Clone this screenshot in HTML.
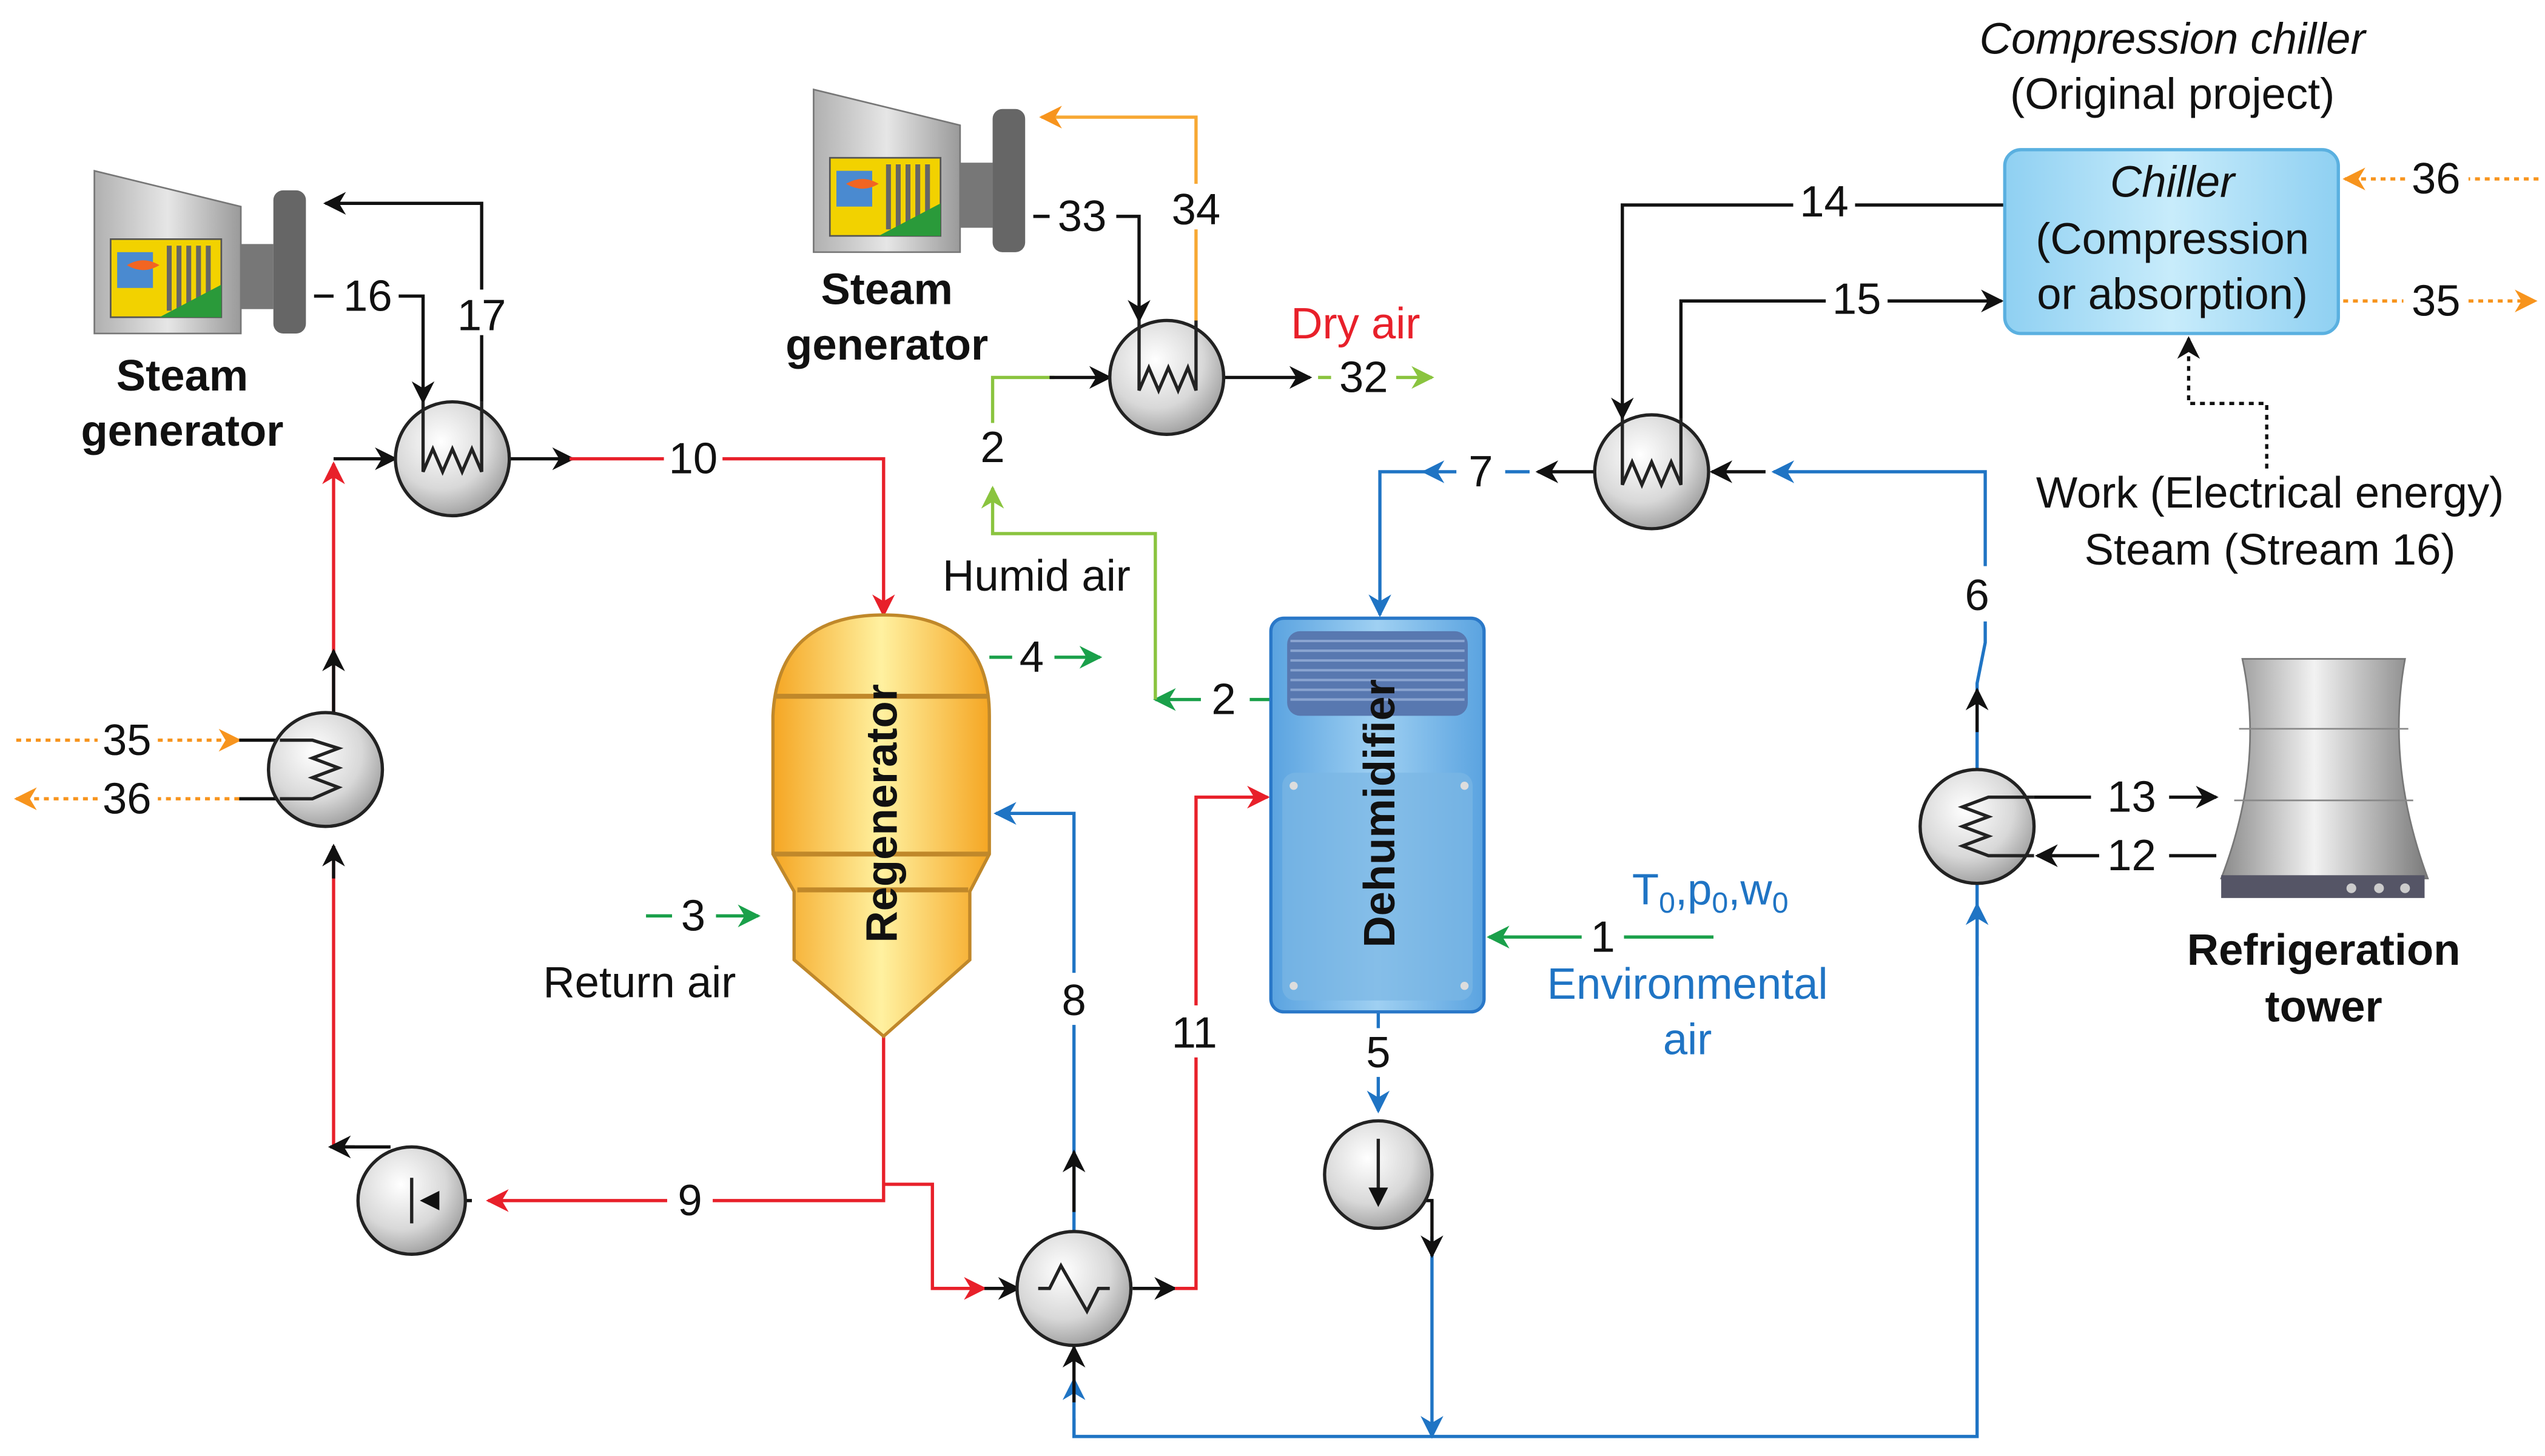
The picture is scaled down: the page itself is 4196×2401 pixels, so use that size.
<!DOCTYPE html>
<html><head><meta charset="utf-8"><style>
html,body{margin:0;padding:0;background:#fff;}
svg{display:block;}
text{font-family:"Liberation Sans",sans-serif;font-size:27px;fill:#111;}
.b{font-weight:bold;}
.i{font-style:italic;}
</style></head><body>
<svg width="4196" height="2401" viewBox="0 0 1564 895" preserveAspectRatio="none" xmlns="http://www.w3.org/2000/svg">
<defs>
<marker id="ak" viewBox="0 0 10 10" refX="9" refY="5" markerWidth="7" markerHeight="7" orient="auto"><path d="M0,0 L10,5 L0,10 L3,5z" fill="#111"/></marker>
<marker id="ar" viewBox="0 0 10 10" refX="9" refY="5" markerWidth="7" markerHeight="7" orient="auto"><path d="M0,0 L10,5 L0,10 L3,5z" fill="#e8202a"/></marker>
<marker id="ab" viewBox="0 0 10 10" refX="9" refY="5" markerWidth="7" markerHeight="7" orient="auto"><path d="M0,0 L10,5 L0,10 L3,5z" fill="#1f74c4"/></marker>
<marker id="ag" viewBox="0 0 10 10" refX="9" refY="5" markerWidth="7" markerHeight="7" orient="auto"><path d="M0,0 L10,5 L0,10 L3,5z" fill="#1aa04a"/></marker>
<marker id="al" viewBox="0 0 10 10" refX="9" refY="5" markerWidth="7" markerHeight="7" orient="auto"><path d="M0,0 L10,5 L0,10 L3,5z" fill="#8ac43f"/></marker>
<marker id="ao" viewBox="0 0 10 10" refX="9" refY="5" markerWidth="7" markerHeight="7" orient="auto"><path d="M0,0 L10,5 L0,10 L3,5z" fill="#f7941d"/></marker>
<radialGradient id="hx" cx="0.4" cy="0.35" r="0.7"><stop offset="0" stop-color="#fff"/><stop offset="0.6" stop-color="#d8d8d8"/><stop offset="1" stop-color="#9a9a9a"/></radialGradient>
<linearGradient id="reg" x1="0" x2="1"><stop offset="0" stop-color="#f5a623"/><stop offset="0.5" stop-color="#fff1a0"/><stop offset="1" stop-color="#f5a623"/></linearGradient>
<linearGradient id="deh" x1="0" x2="1"><stop offset="0" stop-color="#5aa3e0"/><stop offset="0.5" stop-color="#9fd0f2"/><stop offset="1" stop-color="#5aa3e0"/></linearGradient>
<linearGradient id="chl" x1="0" x2="1"><stop offset="0" stop-color="#8fd0f2"/><stop offset="0.5" stop-color="#c8ecfb"/><stop offset="1" stop-color="#8fd0f2"/></linearGradient>
<linearGradient id="tw" x1="0" x2="1"><stop offset="0" stop-color="#8a8a8a"/><stop offset="0.45" stop-color="#f2f2f2"/><stop offset="1" stop-color="#7a7a7a"/></linearGradient>
<linearGradient id="bld" x1="0" x2="1"><stop offset="0" stop-color="#b0b0b0"/><stop offset="0.5" stop-color="#e6e6e6"/><stop offset="1" stop-color="#9a9a9a"/></linearGradient>
<g id="sg">
<path d="M0,0 L90,22 L90,100 L0,100z" fill="url(#bld)" stroke="#777"/>
<rect x="10" y="42" width="68" height="48" fill="#f2d200" stroke="#555"/>
<rect x="14" y="50" width="22" height="22" fill="#4a8ad0"/>
<path d="M20,58 q10,-6 20,0 q-10,6 -20,0" fill="#f26522"/>
<path d="M46,46 v40 M52,46 v40 M58,46 v40 M64,46 v40 M70,46 v40" stroke="#666" stroke-width="3"/>
<path d="M40,90 L78,70 L78,90z" fill="#2a9a3a"/>
<rect x="90" y="45" width="20" height="40" fill="#777"/>
<rect x="110" y="12" width="20" height="88" rx="6" fill="#666"/>
</g>
</defs>

<use href="#sg" x="58" y="105"/>
<text class="b" x="112" y="240" text-anchor="middle">Steam</text>
<text class="b" x="112" y="274" text-anchor="middle">generator</text>
<use href="#sg" x="500" y="55"/>
<text class="b" x="545" y="187" text-anchor="middle">Steam</text>
<text class="b" x="545" y="221" text-anchor="middle">generator</text>

<path d="M193,182 H205" stroke="#111" stroke-width="2" fill="none"/>
<text x="226" y="191" text-anchor="middle">16</text>
<path d="M245,182 H260 V247" stroke="#111" stroke-width="2" fill="none" marker-end="url(#ak)"/>
<path d="M296,247 V125 H200" stroke="#111" stroke-width="2" fill="none" marker-end="url(#ak)"/>
<rect x="282" y="178" width="28" height="28" fill="#fff"/>
<text x="296" y="203" text-anchor="middle">17</text>

<path d="M635,133 H645" stroke="#111" stroke-width="2"/>
<text x="665" y="142" text-anchor="middle">33</text>
<path d="M686,133 H700 V197" stroke="#111" stroke-width="2" fill="none" marker-end="url(#ak)"/>
<path d="M735,197 V72 H640" stroke="#f7a833" stroke-width="2" fill="none" marker-end="url(#ao)"/>
<rect x="720" y="113" width="30" height="28" fill="#fff"/>
<text x="735" y="138" text-anchor="middle">34</text>

<path d="M205,705 V520" stroke="#e8202a" stroke-width="2" fill="none"/>
<path d="M205,438 V285" stroke="#e8202a" stroke-width="2" fill="none" marker-end="url(#ar)"/>
<path d="M205,282 H243" stroke="#111" stroke-width="2" fill="none" marker-end="url(#ak)"/>
<path d="M205,705 H240" stroke="#111" stroke-width="2" fill="none"/>
<path d="M218,705 H203" stroke="#111" stroke-width="2" marker-end="url(#ak)"/>
<path d="M205,438 V400" stroke="#111" stroke-width="2" marker-end="url(#ak)"/>
<path d="M205,540 V520" stroke="#111" stroke-width="2" marker-end="url(#ak)"/>
<path d="M313,282 H352" stroke="#111" stroke-width="2" marker-end="url(#ak)"/>
<path d="M350,282 H543 V378" stroke="#e8202a" stroke-width="2" fill="none" marker-end="url(#ar)"/>
<rect x="408" y="268" width="36" height="28" fill="#fff"/>
<text x="426" y="291" text-anchor="middle">10</text>

<path d="M543,637 V738 H300" stroke="#e8202a" stroke-width="2" fill="none" marker-end="url(#ar)"/>
<path d="M290,738 H258" stroke="#111" stroke-width="2" marker-end="url(#ak)"/>
<rect x="410" y="724" width="28" height="28" fill="#fff"/>
<text x="424" y="747" text-anchor="middle">9</text>
<path d="M543,728 H573 V792 H605" stroke="#e8202a" stroke-width="2" fill="none" marker-end="url(#ar)"/>
<path d="M605,792 H626" stroke="#111" stroke-width="2" marker-end="url(#ak)"/>

<path d="M660,757 V500 H612" stroke="#1f74c4" stroke-width="2" fill="none" marker-end="url(#ab)"/>
<path d="M660,745 V708" stroke="#111" stroke-width="2" marker-end="url(#ak)"/>
<rect x="648" y="598" width="24" height="32" fill="#fff"/>
<text x="660" y="624" text-anchor="middle">8</text>
<path d="M696,792 H722" stroke="#111" stroke-width="2" marker-end="url(#ak)"/>
<path d="M722,792 H735 V490 H779" stroke="#e8202a" stroke-width="2" fill="none" marker-end="url(#ar)"/>
<rect x="716" y="618" width="36" height="32" fill="#fff"/>
<text x="734" y="644" text-anchor="middle">11</text>

<path d="M660,872 V883 H1215 V540" stroke="#1f74c4" stroke-width="2" fill="none"/>
<path d="M660,883 V848" stroke="#1f74c4" stroke-width="2" marker-end="url(#ab)"/>
<path d="M660,862 V828" stroke="#111" stroke-width="2" marker-end="url(#ak)"/>
<path d="M880,760 V883" stroke="#1f74c4" stroke-width="2" marker-end="url(#ab)"/>
<path d="M1215,600 V556" stroke="#1f74c4" stroke-width="2" marker-end="url(#ab)"/>
<path d="M847,738 H880 V772" stroke="#111" stroke-width="2" fill="none" marker-end="url(#ak)"/>

<path d="M847,622 V632" stroke="#1f74c4" stroke-width="2"/>
<text x="847" y="656" text-anchor="middle">5</text>
<path d="M847,662 V683" stroke="#1f74c4" stroke-width="2" marker-end="url(#ab)"/>

<path d="M781,430 H768" stroke="#1aa04a" stroke-width="2"/>
<text x="752" y="439" text-anchor="middle">2</text>
<path d="M738,430 H710" stroke="#1aa04a" stroke-width="2" marker-end="url(#ag)"/>
<path d="M710,430 V328 H610 V300" stroke="#8ac43f" stroke-width="2" fill="none" marker-end="url(#al)"/>
<text x="610" y="284" text-anchor="middle">2</text>
<path d="M610,260 V232 H648" stroke="#8ac43f" stroke-width="2" fill="none"/>
<path d="M645,232 H682" stroke="#111" stroke-width="2" marker-end="url(#ak)"/>
<text x="637" y="363" text-anchor="middle">Humid air</text>
<path d="M752,232 H805" stroke="#111" stroke-width="2" marker-end="url(#ak)"/>
<path d="M810,232 H818" stroke="#8ac43f" stroke-width="2"/>
<text x="838" y="241" text-anchor="middle">32</text>
<path d="M858,232 H880" stroke="#8ac43f" stroke-width="2" marker-end="url(#al)"/>
<text x="833" y="208" text-anchor="middle" style="fill:#e8202a">Dry air</text>

<path d="M608,404 H622" stroke="#1aa04a" stroke-width="2"/>
<text x="634" y="413" text-anchor="middle">4</text>
<path d="M648,404 H676" stroke="#1aa04a" stroke-width="2" marker-end="url(#ag)"/>
<path d="M397,563 H413" stroke="#1aa04a" stroke-width="2"/>
<text x="426" y="572" text-anchor="middle">3</text>
<path d="M440,563 H466" stroke="#1aa04a" stroke-width="2" marker-end="url(#ag)"/>
<text x="393" y="613" text-anchor="middle">Return air</text>

<path d="M1053,576 H998" stroke="#1aa04a" stroke-width="2"/>
<text x="985" y="585" text-anchor="middle">1</text>
<path d="M972,576 H915" stroke="#1aa04a" stroke-width="2" marker-end="url(#ag)"/>
<text x="1003" y="556" style="fill:#1f74c4">T<tspan font-size="18" dy="5">0</tspan><tspan dy="-5">,p</tspan><tspan font-size="18" dy="5">0</tspan><tspan dy="-5">,w</tspan><tspan font-size="18" dy="5">0</tspan></text>
<text x="1037" y="614" text-anchor="middle" style="fill:#1f74c4">Environmental</text>
<text x="1037" y="648" text-anchor="middle" style="fill:#1f74c4">air</text>

<path d="M980,290 H945" stroke="#111" stroke-width="2" marker-end="url(#ak)"/>
<path d="M940,290 H925" stroke="#1f74c4" stroke-width="2"/>
<text x="910" y="299" text-anchor="middle">7</text>
<path d="M895,290 H875" stroke="#1f74c4" stroke-width="2" marker-end="url(#ab)"/>
<path d="M880,290 H848 V378" stroke="#1f74c4" stroke-width="2" fill="none" marker-end="url(#ab)"/>
<path d="M1215,473 V420 L1220,395 V290 H1090" stroke="#1f74c4" stroke-width="2" fill="none" marker-end="url(#ab)"/>
<path d="M1085,290 H1052" stroke="#111" stroke-width="2" marker-end="url(#ak)"/>
<path d="M1215,450 V424" stroke="#111" stroke-width="2" marker-end="url(#ak)"/>
<rect x="1203" y="348" width="28" height="34" fill="#fff"/>
<text x="1215" y="375" text-anchor="middle">6</text>

<path d="M1232,126 H997 V257" stroke="#111" stroke-width="2" fill="none" marker-end="url(#ak)"/>
<rect x="1102" y="110" width="38" height="30" fill="#fff"/>
<text x="1121" y="133" text-anchor="middle">14</text>
<path d="M1033,257 V185 H1230" stroke="#111" stroke-width="2" fill="none" marker-end="url(#ak)"/>
<rect x="1122" y="170" width="38" height="30" fill="#fff"/>
<text x="1141" y="193" text-anchor="middle">15</text>

<rect x="1232" y="92" width="205" height="113" rx="10" fill="url(#chl)" stroke="#5ab0e0" stroke-width="2"/>
<text class="i" x="1335" y="121" text-anchor="middle">Chiller</text>
<text x="1335" y="156" text-anchor="middle">(Compression</text>
<text x="1335" y="190" text-anchor="middle">or absorption)</text>
<text class="i" x="1335" y="33" text-anchor="middle">Compression chiller</text>
<text x="1335" y="67" text-anchor="middle">(Original project)</text>
<path d="M1560,110 H1517" stroke="#f7941d" stroke-width="2" stroke-dasharray="3,3"/>
<text x="1497" y="119" text-anchor="middle">36</text>
<path d="M1478,110 H1441" stroke="#f7941d" stroke-width="2" stroke-dasharray="3,3" marker-end="url(#ao)"/>
<path d="M1440,185 H1477" stroke="#f7941d" stroke-width="2" stroke-dasharray="3,3"/>
<text x="1497" y="194" text-anchor="middle">35</text>
<path d="M1517,185 H1558" stroke="#f7941d" stroke-width="2" stroke-dasharray="3,3" marker-end="url(#ao)"/>
<path d="M1393,288 V248 H1345 V208" stroke="#111" stroke-width="2" stroke-dasharray="3,3" fill="none" marker-end="url(#ak)"/>
<text x="1395" y="312" text-anchor="middle">Work (Electrical energy)</text>
<text x="1395" y="347" text-anchor="middle">Steam (Stream 16)</text>

<path d="M10,455 H60" stroke="#f7941d" stroke-width="2" stroke-dasharray="3,3"/>
<text x="78" y="464" text-anchor="middle">35</text>
<path d="M97,455 H147" stroke="#f7941d" stroke-width="2" stroke-dasharray="3,3" marker-end="url(#ao)"/>
<path d="M147,491 H97" stroke="#f7941d" stroke-width="2" stroke-dasharray="3,3"/>
<text x="78" y="500" text-anchor="middle">36</text>
<path d="M60,491 H10" stroke="#f7941d" stroke-width="2" stroke-dasharray="3,3" marker-end="url(#ao)"/>
<path d="M147,455 H172 M147,491 H172" stroke="#111" stroke-width="2"/>

<path d="M1250,490 H1285" stroke="#111" stroke-width="2"/>
<text x="1310" y="499" text-anchor="middle">13</text>
<path d="M1333,490 H1362" stroke="#111" stroke-width="2" marker-end="url(#ak)"/>
<path d="M1362,526 H1333" stroke="#111" stroke-width="2"/>
<text x="1310" y="535" text-anchor="middle">12</text>
<path d="M1290,526 H1252" stroke="#111" stroke-width="2" marker-end="url(#ak)"/>

<path d="M1378,405 H1478 Q1466,470 1492,540 H1365 Q1392,470 1378,405z" fill="url(#tw)" stroke="#777"/>
<path d="M1376,448 H1480 M1373,492 H1483" stroke="#888"/>
<rect x="1365" y="538" width="125" height="14" fill="#556"/>
<circle cx="1445" cy="546" r="3" fill="#ccc"/><circle cx="1462" cy="546" r="3" fill="#ccc"/><circle cx="1478" cy="546" r="3" fill="#ccc"/>
<text class="b" x="1428" y="593" text-anchor="middle">Refrigeration</text>
<text class="b" x="1428" y="628" text-anchor="middle">tower</text>

<path d="M475,440 Q478,378 543,378 Q608,378 608,440 V525 L596,548 V590 L543,637 L488,590 V548 L475,525z" fill="url(#reg)" stroke="#c0882a" stroke-width="2"/>
<path d="M476,428 H607 M476,525 H607 M490,547 H595" stroke="#c0882a" stroke-width="3"/>
<text class="b" transform="translate(551,500) rotate(-90)" text-anchor="middle" style="font-size:27px">Regenerator</text>

<rect x="781" y="380" width="131" height="242" rx="8" fill="url(#deh)" stroke="#2a78c8" stroke-width="2"/>
<rect x="791" y="388" width="111" height="52" rx="8" fill="#5878b0"/>
<path d="M793,394 H900 M793,400 H900 M793,406 H900 M793,412 H900 M793,418 H900 M793,424 H900 M793,430 H900" stroke="#8aa4d0" stroke-width="1.5"/>
<rect x="788" y="475" width="117" height="140" rx="8" fill="#7ab6e4" opacity="0.7"/>
<circle cx="795" cy="483" r="2.5" fill="#ddd"/><circle cx="900" cy="483" r="2.5" fill="#ddd"/><circle cx="795" cy="606" r="2.5" fill="#ddd"/><circle cx="900" cy="606" r="2.5" fill="#ddd"/>
<text class="b" transform="translate(857,500) rotate(-90)" text-anchor="middle" style="font-size:27px">Dehumidifier</text>

<g stroke="#222" stroke-width="2">
<circle cx="278" cy="282" r="35" fill="url(#hx)"/>
<circle cx="717" cy="232" r="35" fill="url(#hx)"/>
<circle cx="1015" cy="290" r="35" fill="url(#hx)"/>
<circle cx="200" cy="473" r="35" fill="url(#hx)"/>
<circle cx="1215" cy="508" r="35" fill="url(#hx)"/>
<circle cx="660" cy="792" r="35" fill="url(#hx)"/>
<circle cx="253" cy="738" r="33" fill="url(#hx)"/>
<circle cx="847" cy="722" r="33" fill="url(#hx)"/>
</g>
<g stroke="#222" stroke-width="2" fill="none">
<path d="M260,247 V290 L266,276 L272,290 L278,276 L284,290 L290,276 L296,290 V247"/>
<path d="M700,197 V240 L706,226 L712,240 L718,226 L724,240 L730,226 L735,240 V197"/>
<path d="M997,257 V298 L1003,284 L1009,298 L1015,284 L1021,298 L1027,284 L1033,298 V257"/>
<path d="M172,455 H192 L208,460 L192,466 L208,472 L192,478 L208,484 L192,491 H172"/>
<path d="M1250,490 H1222 L1206,496 L1222,502 L1206,508 L1222,514 L1206,520 L1222,526 H1250"/>
<path d="M638,792 H645 L652,778 L668,806 L675,792 H682"/>
<path d="M253,724 L253,752"/>
<path d="M847,700 V735"/>
</g>
<path d="M258,738 L270,732 L270,744z" fill="#111"/>
<path d="M847,742 L841,730 L853,730z" fill="#111"/>
</svg>
</body></html>
